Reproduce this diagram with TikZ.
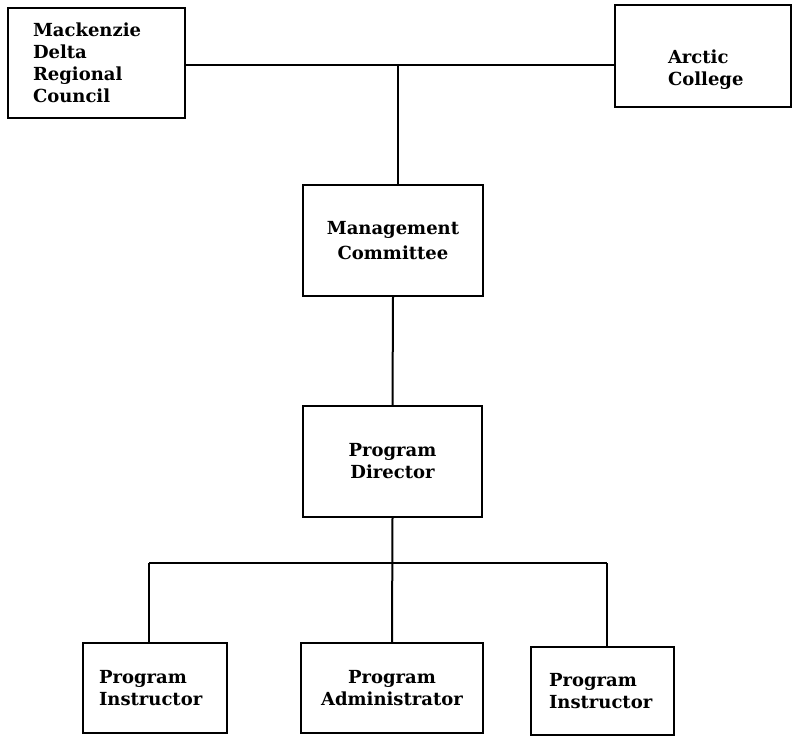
\documentclass[tikz,border=0pt]{standalone}
\usepackage{fontspec}
\newfontfamily\boxfont{DejaVu Serif}

\begin{document}
\begin{tikzpicture}[x=1pt, y=-1pt,
  orgbox/.style={draw, line width=2pt, inner sep=0pt,
    font=\boxfont\bfseries\fontsize{18}{22}\selectfont},
  link/.style={line width=2pt}]
  \useasboundingbox (0,0) rectangle (793,737);
  % top row
  \node[orgbox, minimum width=177pt, minimum height=110pt, text width=127pt,
    inner xsep=25pt, align=left] (council) at (96.5,62.5) {Mackenzie\\Delta\\Regional\\Council};
  \node[orgbox, minimum width=176pt, minimum height=102pt, text width=70pt,
    inner xsep=53pt, align=left] (college) at (703,56) {\rule{0pt}{40pt}Arctic\\College};
  % middle
  \node[orgbox, minimum width=180pt, minimum height=111pt, align=center] (committee) at (393,240.5) {Management\\[3pt]Committee};
  \node[orgbox, minimum width=179pt, minimum height=111pt, align=center] (director) at (392.5,461.5) {Program\\Director};
  % bottom row
  \node[orgbox, minimum width=144pt, minimum height=90pt, text width=112pt,
    inner xsep=16pt, align=left] (instrA) at (155,688) {Program\\Instructor};
  \node[orgbox, minimum width=182pt, minimum height=90pt, align=center] (admin) at (392,688) {Program\\Administrator};
  \node[orgbox, minimum width=143pt, minimum height=88pt, text width=107pt,
    inner xsep=18pt, align=left] (instrB) at (602.5,691) {Program\\Instructor};

  \coordinate (top) at (398,65);
  \coordinate (busL) at (149,563);
  \coordinate (busR) at (607,563);
  \draw[link] (top -| council.east) -- (top -| college.west);
  \draw[link] (top) -- (top |- committee.north);
  \draw[link] (committee.south) -- (director.north);
  \draw[link] (director.south) -- (admin.north);
  \draw[link] (busL) -- (busR);
  \draw[link] (busL) -- (busL |- instrA.north);
  \draw[link] (busR) -- (busR |- instrB.north);
\end{tikzpicture}
\end{document}
